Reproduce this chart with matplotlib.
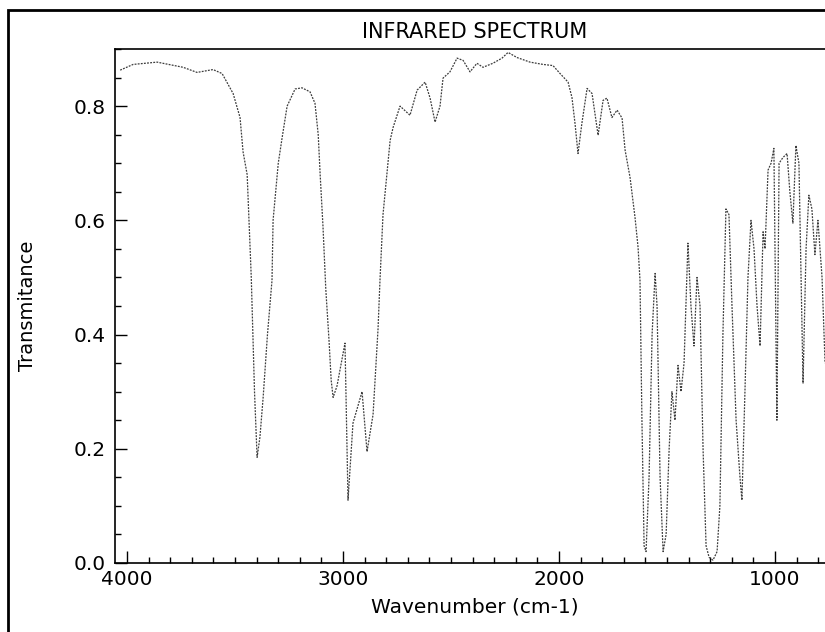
import matplotlib
matplotlib.use('Agg')
import matplotlib.pyplot as plt
from matplotlib.ticker import MultipleLocator, FormatStrFormatter
from matplotlib.patches import Rectangle

# wavenumber (cm-1) and transmittance
wavenumber = [
    4032, 3972, 3861, 3741, 3676, 3602, 3560, 3509, 3477, 3463, 3444, 3425,
    3410, 3398, 3385, 3370, 3350, 3329, 3324, 3300, 3282, 3259, 3222, 3190,
    3153, 3130, 3115, 3106, 3093, 3080, 3065, 3055, 3046, 3028, 2991, 2977,
    2954, 2912, 2889, 2861, 2838, 2829, 2815, 2782, 2768, 2736, 2690, 2657,
    2620, 2597, 2574, 2551, 2537, 2505, 2472, 2444, 2412, 2380, 2352, 2306,
    2264, 2236, 2194, 2134, 2074, 2028, 1995, 1958, 1940, 1926, 1912, 1894,
    1870, 1847, 1819, 1796, 1778, 1755, 1731, 1708, 1694, 1671, 1648, 1634,
    1625, 1616, 1606, 1597, 1583, 1569, 1555, 1546, 1532, 1518, 1504, 1490,
    1477, 1463, 1449, 1435, 1421, 1403, 1389, 1375, 1361, 1347, 1333, 1319,
    1305, 1287, 1268, 1255, 1241, 1227, 1213, 1199, 1180, 1162, 1153, 1139,
    1125, 1111, 1097, 1083, 1069, 1055, 1046, 1032, 1018, 1005, 991, 981,
    963, 944, 931, 917, 903, 889, 870, 856, 843, 829, 815, 801, 782, 768,
]
transmittance = [
    0.863, 0.873, 0.877, 0.868, 0.859, 0.864, 0.857, 0.822, 0.78, 0.72, 0.68, 0.50,
    0.30, 0.185, 0.22, 0.29, 0.40, 0.495, 0.60, 0.70, 0.745, 0.80, 0.83, 0.832,
    0.825, 0.805, 0.75, 0.68, 0.59, 0.48, 0.39, 0.32, 0.29, 0.31, 0.385, 0.11,
    0.245, 0.30, 0.195, 0.26, 0.41, 0.495, 0.61, 0.74, 0.763, 0.80, 0.784, 0.828,
    0.842, 0.814, 0.772, 0.80, 0.849, 0.86, 0.884, 0.88, 0.86, 0.875, 0.868, 0.875,
    0.884, 0.894, 0.885, 0.877, 0.873, 0.871, 0.857, 0.842, 0.815, 0.77, 0.717, 0.77,
    0.831, 0.822, 0.749, 0.81, 0.814, 0.78, 0.793, 0.779, 0.723, 0.675, 0.605, 0.553,
    0.495, 0.25, 0.03, 0.02, 0.15, 0.40, 0.507, 0.45, 0.15, 0.02, 0.05, 0.20,
    0.30, 0.25, 0.346, 0.30, 0.35, 0.56, 0.45, 0.38, 0.50, 0.45, 0.20, 0.03,
    0.01, 0.005, 0.02, 0.10, 0.40, 0.62, 0.61, 0.45, 0.25, 0.15, 0.11, 0.30,
    0.50, 0.60, 0.55, 0.45, 0.38, 0.58, 0.55, 0.688, 0.70, 0.726, 0.25, 0.70,
    0.71, 0.717, 0.65, 0.595, 0.731, 0.70, 0.315, 0.55, 0.644, 0.62, 0.54, 0.60, 0.50, 0.35,
]

fig = plt.figure(figsize=(8.25, 6.32), dpi=100)
ax = fig.add_axes([115 / 825, 69 / 632, 720 / 825, 514 / 632])

ax.plot(wavenumber, transmittance, color='#3c3c3c', lw=0.9, linestyle=(0, (1.5, 1)))

ax.set_xlim(4056, 722)
ax.set_ylim(0, 0.9)
ax.xaxis.set_major_locator(MultipleLocator(1000))
ax.xaxis.set_minor_locator(MultipleLocator(100))
ax.yaxis.set_major_locator(MultipleLocator(0.2))
ax.yaxis.set_minor_locator(MultipleLocator(0.05))
ax.yaxis.set_major_formatter(FormatStrFormatter('%.1f'))
ax.tick_params(which='major', direction='in', length=8.5, width=1, labelsize=14.5)
ax.tick_params(which='minor', direction='in', length=4, width=1)
ax.tick_params(axis='y', pad=7)
ax.tick_params(axis='x', pad=5)
for s in ax.spines.values():
    s.set_linewidth(1.2)

ax.set_title('INFRARED SPECTRUM', fontsize=15, pad=8)
ax.set_xlabel('Wavenumber (cm-1)', fontsize=14.5, labelpad=6)
ax.set_ylabel('Transmitance', fontsize=14, labelpad=26)

# outer frame of the scanned page
fig.patches.append(Rectangle((8 / 825, -0.05), 1.2, (632 - 10) / 632 + 0.05,
                             transform=fig.transFigure, fill=False,
                             edgecolor='black', lw=2))

fig.savefig('out.png', dpi=100)
